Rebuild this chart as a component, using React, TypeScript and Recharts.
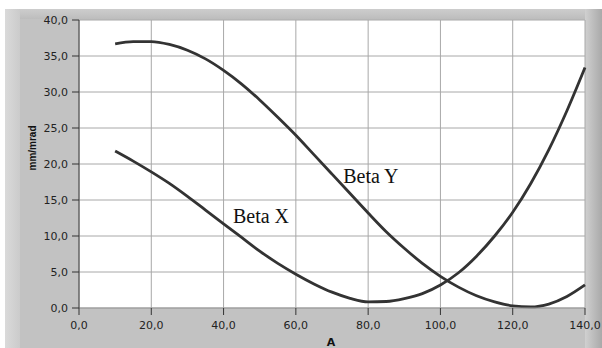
import React from 'react';
import { LineChart, Line, XAxis, YAxis, CartesianGrid, ReferenceDot } from 'recharts';

const xValues = [10, 15, 20, 25, 30, 35, 40, 45, 50, 55, 60, 65, 70, 75, 80, 85, 90, 95, 100, 105, 110, 115, 120, 125, 130, 135, 140];
const betaY = [36.7, 37.0, 37.0, 36.6, 35.8, 34.6, 33.0, 31.1, 28.9, 26.5, 24.0, 21.3, 18.6, 15.9, 13.2, 10.6, 8.3, 6.2, 4.4, 2.9, 1.7, 0.85, 0.3, 0.15, 0.55, 1.6, 3.2];
const betaX = [21.8, 20.4, 18.9, 17.3, 15.5, 13.6, 11.7, 9.8, 7.9, 6.2, 4.7, 3.35, 2.2, 1.35, 0.85, 0.9, 1.3, 2.0, 3.2, 4.9, 7.2, 10.0, 13.3, 17.3, 22.0, 27.4, 33.4];

const xTicks = [0, 20, 40, 60, 80, 100, 120, 140];
const yTicks = [0, 5, 10, 15, 20, 25, 30, 35, 40];

const annotationText = ['Beta Y', 'Beta X'];
const annotationX = [73.1, 42.6];
const annotationY = [17.3, 11.8];

const data = xValues.map((x, i) => ({ x, betaX: betaX[i], betaY: betaY[i] }));
const fmt = (v: number) => v.toFixed(1).replace('.', ',');

const tickFont = { fontFamily: 'DejaVu Sans', fontSize: 11, fill: '#222' };

export default function App() {
  return (
    <div style={{ position: 'absolute', left: 0, top: 0, width: 602, height: 348, background: '#ffffff', overflow: 'hidden' }}>
      <div style={{ position: 'absolute', left: 5, top: 9, width: 597, height: 339, background: '#c2c2c2' }} />
      <div style={{ position: 'absolute', left: 5, top: 9, width: 15, height: 339, background: 'linear-gradient(to right, #dadada, #cbcbcb)' }} />
      <div style={{ position: 'absolute', left: 20, top: 9, width: 565, height: 10, background: 'linear-gradient(to bottom, #cdcdcd, #bdbdbd)' }} />
      <div style={{ position: 'absolute', left: 585, top: 9, width: 17, height: 339, background: 'linear-gradient(to right, #d0d0d0, #a9a9a9)' }} />
      <LineChart
        width={602}
        height={348}
        data={data}
        margin={{ top: 20, right: 17, bottom: 10, left: 0 }}
        style={{ position: 'absolute', left: 0, top: 0 }}
      >
        <CartesianGrid stroke="#a8a8a8" fill="#ffffff" fillOpacity={1} horizontalValues={yTicks} verticalValues={xTicks} />
        <XAxis
          dataKey="x"
          type="number"
          domain={[0, 140]}
          ticks={xTicks}
          tickFormatter={fmt}
          height={30}
          tickSize={7}
          tickMargin={6}
          tick={tickFont}
          axisLine={{ stroke: '#9a9a9a' }}
          tickLine={{ stroke: '#333' }}
          label={(p: any) => (
            <text x={331} y={346} textAnchor="middle" fontFamily="DejaVu Sans" fontWeight="bold" fontSize={11} fill="#111">A</text>
          )}
        />
        <YAxis
          type="number"
          domain={[0, 40]}
          ticks={yTicks}
          tickFormatter={fmt}
          width={79}
          tickSize={7}
          tickMargin={4}
          tick={tickFont}
          axisLine={{ stroke: '#404040' }}
          tickLine={{ stroke: '#333' }}
          label={(p: any) => (
            <text
              x={32.5}
              y={148}
              transform="rotate(-90 32.5 148)"
              textAnchor="middle"
              dominantBaseline="central"
              fontFamily="Liberation Sans"
              fontWeight="bold"
              fontSize={10}
              fill="#111"
            >
              mm/mrad
            </text>
          )}
        />
        <Line type="monotone" dataKey="betaY" stroke="#333333" strokeWidth={2.8} dot={false} isAnimationActive={false} />
        <Line type="monotone" dataKey="betaX" stroke="#333333" strokeWidth={2.8} dot={false} isAnimationActive={false} />
        {annotationText.map((t, i) => (
          <ReferenceDot
            key={t}
            x={annotationX[i]}
            y={annotationY[i]}
            r={0}
            fill="none"
            stroke="none"
            label={(p: any) => (
              <text
                x={p.viewBox ? p.viewBox.x : 0}
                y={p.viewBox ? p.viewBox.y : 0}
                fontFamily="Liberation Serif"
                fontSize={20}
                fill="#111"
              >
                {t}
              </text>
            )}
          />
        ))}
      </LineChart>
    </div>
  );
}
